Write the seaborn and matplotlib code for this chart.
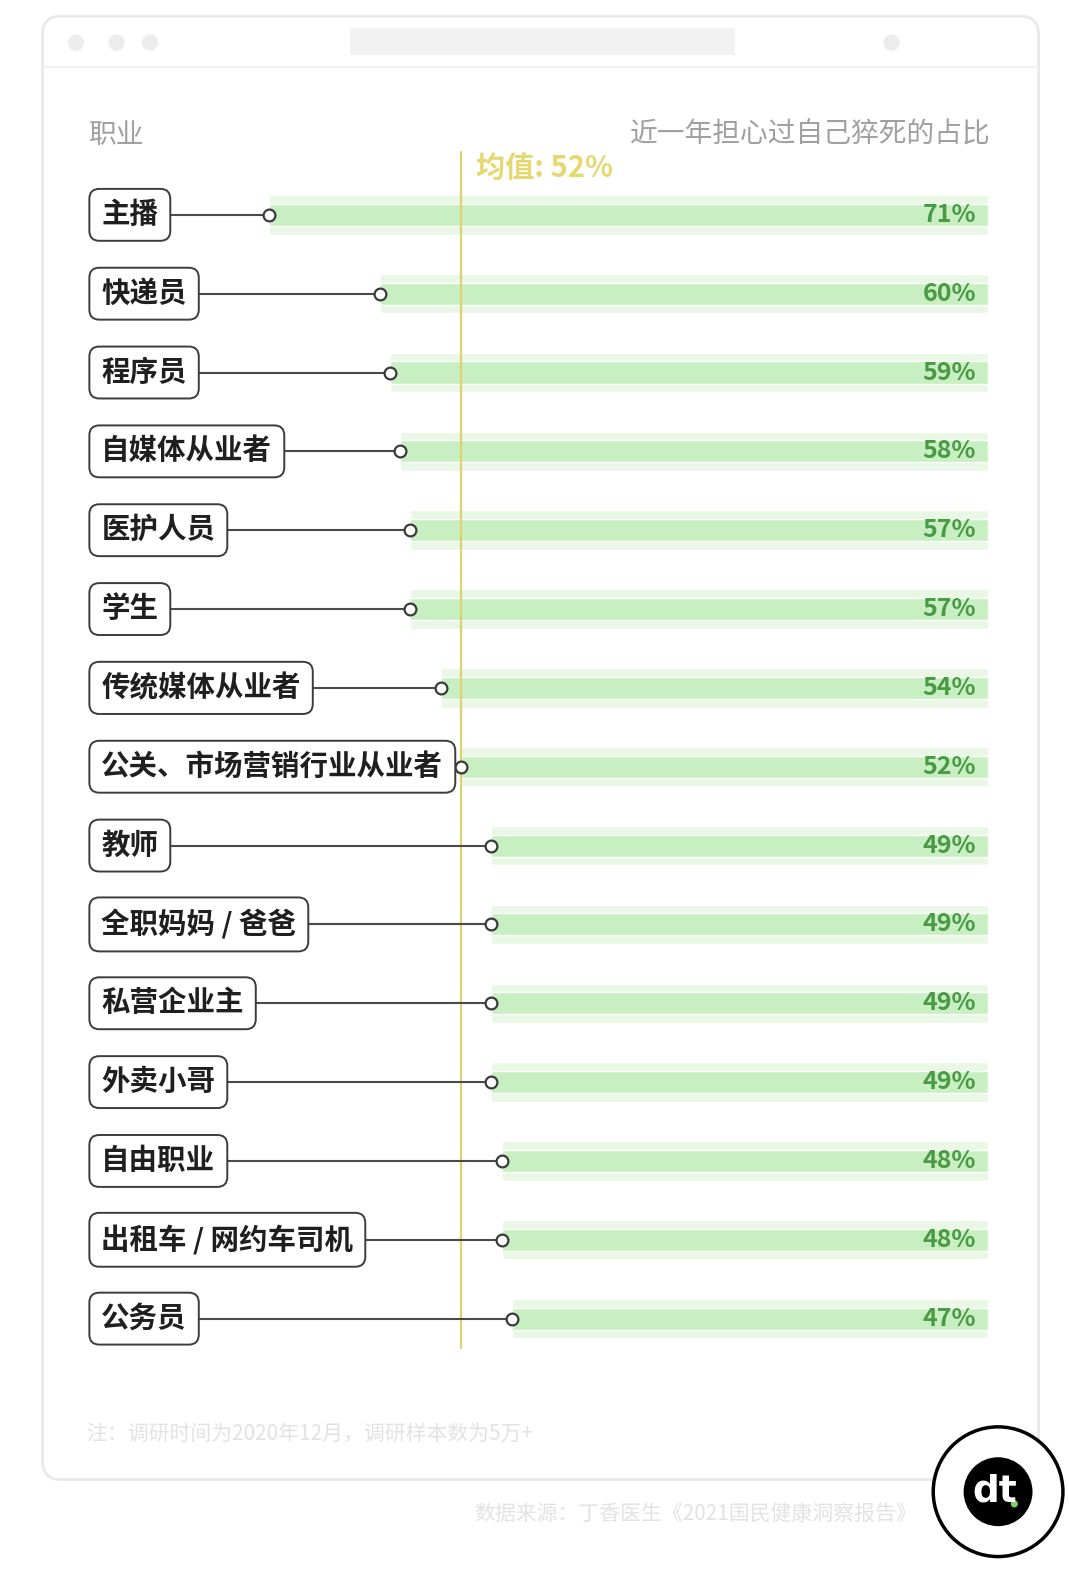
import matplotlib
matplotlib.use('Agg')
import matplotlib.pyplot as plt
import seaborn as sns
import pandas as pd
from matplotlib.patches import FancyBboxPatch, Circle, Rectangle

# data
occupations = ['主播', '快递员', '程序员', '自媒体从业者', '医护人员', '学生', '传统媒体从业者',
               '公关、市场营销行业从业者', '教师', '全职妈妈 / 爸爸', '私营企业主', '外卖小哥',
               '自由职业', '出租车 / 网约车司机', '公务员']
share = [71, 60, 59, 58, 57, 57, 54, 52, 49, 49, 49, 49, 48, 48, 47]
mean_share = 52

header_left = '职业'
header_right = '近一年担心过自己猝死的占比'
note_text = '注：调研时间为2020年12月，调研样本数为5万+'
source_text = '数据来源：丁香医生《2021国民健康洞察报告》'

df = pd.DataFrame({'occupation': occupations, 'share': share})

sns.set_style('white')
plt.rcParams['font.family'] = ['Noto Sans CJK SC', 'DejaVu Sans']

# layout worked out on a 1055 x 1568 grid, saved at 1069 x 1589
GW, GH = 1055, 1568
fig = plt.figure(figsize=(10.69, 15.89), dpi=100)
fig.patch.set_facecolor('white')

# background layer in grid coordinates
bg = fig.add_axes([0, 0, 1, 1], zorder=-1)
bg.set_xlim(0, GW)
bg.set_ylim(GH, 0)
bg.axis('off')
bg.add_patch(FancyBboxPatch((42, 16), 983, 1444, boxstyle='round,pad=0,rounding_size=18',
                            fc='white', ec='#e9e9e9', lw=2))
bg.plot([44, 1023], [66, 66], color='#f0f0f0', lw=1.5)
bg.add_patch(Rectangle((345, 28), 380, 26, fc='#f2f2f2', ec='none'))
for cx in [75, 115, 148]:
    bg.add_patch(Circle((cx, 42), 8, fc='#ececec', ec='none'))
bg.add_patch(Circle((880, 42), 8, fc='#ececec', ec='none'))
bg.text(88, 133, header_left, fontsize=20, color='#a0a0a0', va='center', ha='left')
bg.text(978, 133, header_right, fontsize=20, color='#a0a0a0', va='center', ha='right')
bg.text(85, 1415, note_text, fontsize=15, color='#e2e2e2', va='center', ha='left')
bg.text(905, 1495, source_text, fontsize=15, color='#e2e2e2', va='center', ha='right')
# logo
bg.add_patch(Circle((985, 1472), 64, fc='white', ec='black', lw=2.5))
bg.add_patch(Circle((985, 1472), 34, fc='black', ec='none'))
bg.text(982, 1472, 'dt', fontsize=27, color='white', fontweight='bold', ha='center', va='center',
        family='DejaVu Sans')
bg.add_patch(Circle((1001, 1484), 3.5, fc='#7bd26a', ec='none'))

# main chart: x = 975 - 10 * value, rows ~77.8 apart starting at y=212 (grid units)
top_px = 212 - 0.6 * 77.8
bot_px = 212 + 14.6 * 77.8
ax = fig.add_axes([85 / GW, 1 - bot_px / GH, 890 / GW, (bot_px - top_px) / GH])
ax.patch.set_alpha(0)
sns.barplot(data=df, x='share', y='occupation', orient='h', color='#e8f8e4', width=0.5,
            saturation=1, ax=ax, zorder=1)
sns.barplot(data=df, x='share', y='occupation', orient='h', color='#c8efc1', width=0.28,
            saturation=1, ax=ax, zorder=2)
ax.set_xlim(89, 0)
ax.set_ylim(14.6, -0.6)
for s in ax.spines.values():
    s.set_visible(False)
ax.set_xticks([])
ax.set_yticks([])
ax.set_xlabel('')
ax.set_ylabel('')

ypos = list(range(len(occupations)))

# connectors and end circles
ax.hlines(ypos, df['share'], 86, color='#4a4a4a', lw=1.5, zorder=4)
ax.scatter(df['share'], ypos, s=72, facecolor='white', edgecolor='#3a3a3a', linewidth=1.6, zorder=6)

# mean line
ax.plot([mean_share, mean_share], [-0.8, 14.37], color='#dcd270', lw=1.6, zorder=3, clip_on=False)
ax.text(mean_share - 1.5, -0.6, '均值: ' + str(mean_share) + '%', fontsize=21, color='#e6d870',
        fontweight='bold', ha='left', va='center', clip_on=False)

# labels
for i, (name, v) in enumerate(zip(occupations, share)):
    ax.text(87.5, i, name, fontsize=20.5, fontweight='bold', color='#1f1f1f', ha='left', va='center',
            zorder=7,
            bbox=dict(boxstyle='round,pad=0.42,rounding_size=0.35', fc='white', ec='#3c3c3c', lw=1.4))
    ax.text(1.2, i, str(v) + '%', fontsize=18, fontweight='bold', color='#4a9a45', ha='right',
            va='center', zorder=7)

fig.savefig('out.png', dpi=100, facecolor='white')
plt.close(fig)
